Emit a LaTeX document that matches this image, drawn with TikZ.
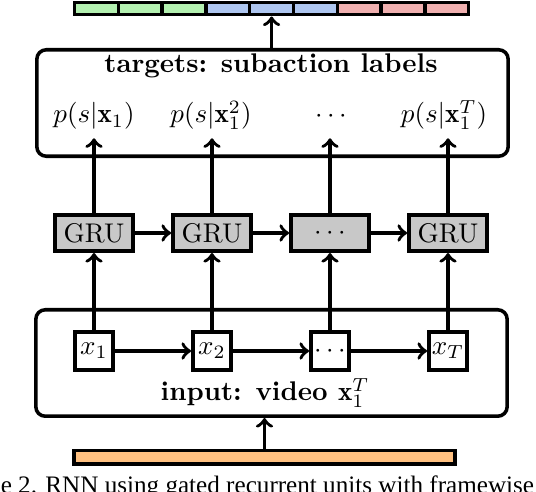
\documentclass[tikz,border=0pt]{standalone}
\usepackage{fontspec}
\newfontfamily\capfont{Liberation Serif}
\usetikzlibrary{positioning}
\definecolor{seggreen}{HTML}{B3F0B0}
\definecolor{segblue}{HTML}{AEC6F0}
\definecolor{segred}{HTML}{F0B0B0}
\definecolor{inorange}{HTML}{FFC080}
\definecolor{grugray}{HTML}{C8C8C8}

\begin{document}
\begin{tikzpicture}[x=0.37pt,y=0.37pt,line width=1.3pt,
    every node/.style={inner sep=0pt},
    cell/.style={draw,minimum width=16.2pt,minimum height=4.6pt},
    panel/.style={draw,rounded corners=3.5pt,minimum width=174.4pt,minimum height=39.4pt},
    grubox/.style={draw,fill=grugray,minimum width=29pt,minimum height=13.5pt},
    framebox/.style={draw,fill=white,minimum width=14.2pt,minimum height=14.2pt},
    outlabel/.style={anchor=base,text depth=2.5pt,inner sep=2.5pt},
    flow/.style={->}]
  \useasboundingbox (0,0) rectangle (536,492);
  \foreach \i/\c in {0/seggreen,1/seggreen,2/seggreen,3/segblue,4/segblue,
                     5/segblue,6/segred,7/segred,8/segred} {
    \node[cell,fill=\c] (seg\i) at ({96.4+43.8*\i},483.5) {};
  }
  \node[panel] (targets) at (272.5,389) {};
  \node[font=\bfseries,anchor=base] (tgttitle) at (271,420) {targets: subaction labels};
  \foreach \n/\x/\t in {1/94/{$p(s|\mathbf{x}_1)$},2/211/{$p(s|\mathbf{x}_1^2)$},
                        3/331/{$\cdots$},4/444/{$p(s|\mathbf{x}_1^T)$}} {
    \node[outlabel] (out\n) at (\x,369) {\t};
  }
  \foreach \n/\t in {1/GRU,2/GRU,3/{$\cdots$},4/GRU} {
    \node[grubox] (gru\n) at ({94+118*(\n-1)},259) {\t};
  }
  \node[panel] (inbox) at (271.5,129) {};
  \foreach \n/\t in {1/{$x_1$},2/{$x_2$},3/{$\cdots$},4/{$x_T$}} {
    \node[framebox] (frame\n) at ({94+118*(\n-1)},141) {\t};
  }
  \node[font=\bfseries,anchor=base] (intitle) at (265,91) {input: video $\mathbf{x}_1^T$};
  \node[draw,fill=inorange,minimum width=141.1pt,minimum height=5pt] (video) at (264.5,34.5) {};
  \foreach \n in {1,...,4} {
    \draw[flow] (frame\n.north) -- (gru\n.south);
    \draw[flow] (gru\n.north) -- (gru\n.north |- out\n.south);
  }
  \foreach \a/\b in {1/2,2/3,3/4} {
    \draw[flow] (gru\a) -- (gru\b);
    \draw[flow] (frame\a) -- (frame\b);
  }
  \draw[flow] (video.north) -- (video.north |- inbox.south);
  \draw[flow] (targets.north -| seg4.south) -- (seg4.south);
  \node[font=\capfont\fontsize{9.3}{11}\selectfont,anchor=base west] (caption) at (-1,-2)
    {e 2. RNN using gated recurrent units with framewise};
\end{tikzpicture}
\end{document}
